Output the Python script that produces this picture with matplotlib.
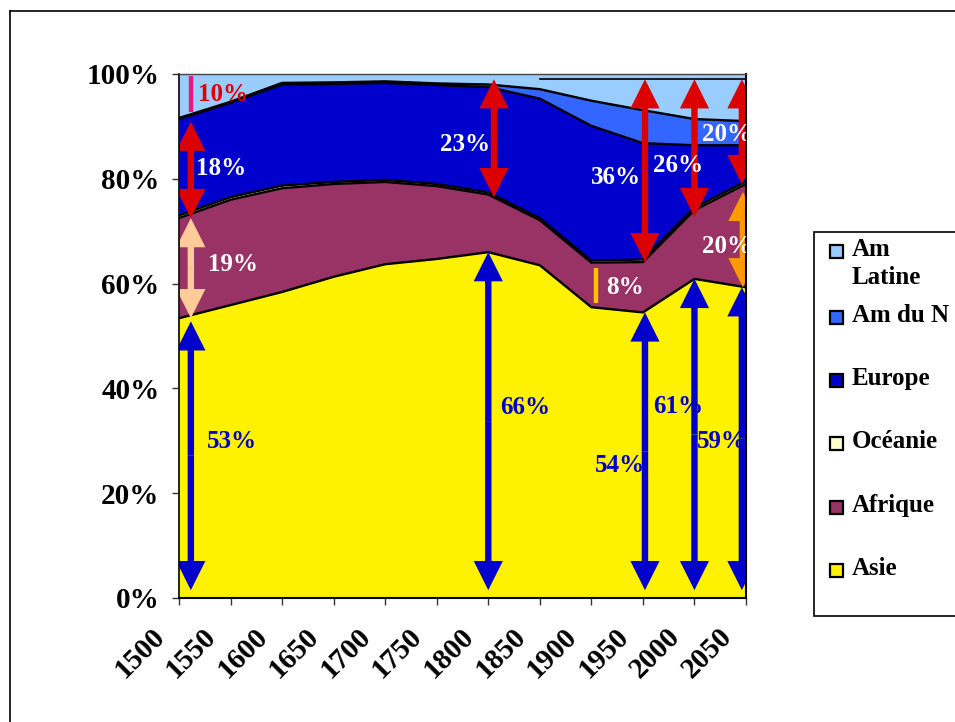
import matplotlib
matplotlib.use("Agg")
import matplotlib.pyplot as plt
import matplotlib.transforms as mtransforms
from matplotlib.patches import FancyArrowPatch, ArrowStyle, Rectangle
import numpy as np

# ---- data: share of world population by region (%) ----
years = [1500, 1550, 1600, 1650, 1700, 1750, 1800, 1850, 1900, 1950, 2000, 2050]
asie      = [53.4, 55.9, 58.4, 61.3, 63.7, 64.7, 66.0, 63.5, 55.5, 54.5, 60.9, 59.3]
afrique   = [19.1, 20.1, 19.8, 17.7, 15.7, 13.9, 11.0,  8.6,  8.5,  9.6, 13.1, 19.7]
oceanie   = [ 0.5,  0.5,  0.5,  0.4,  0.4,  0.4,  0.4,  0.4,  0.4,  0.5,  0.5,  0.5]
europe    = [18.4, 18.0, 19.3, 18.7, 18.5, 18.9, 20.1, 22.8, 25.7, 22.2, 11.9,  6.9]
am_nord   = [ 0.2,  0.2,  0.3,  0.3,  0.3,  0.3,  0.5,  1.8,  4.8,  6.3,  5.0,  4.6]
am_latine = [ 8.4,  5.3,  1.7,  1.6,  1.4,  1.8,  2.0,  2.9,  5.1,  6.9,  8.6,  9.0]

region_names  = ["Asie", "Afrique", "Océanie", "Europe", "Am du N", "Am\nLatine"]
region_colors = ["#FFF200", "#993366", "#FFFFCC", "#0000CC", "#3366FF", "#99CCFF"]
y_ticks = [0, 20, 40, 60, 80, 100]
y_tick_labels = ["0%", "20%", "40%", "60%", "80%", "100%"]

RED, BLUE, PEACH, ORANGE = "#DD0000", "#0000CC", "#FFCC99", "#FF9900"
W, H = 955, 722
SERIF = "Liberation Serif"

fig = plt.figure(figsize=(W / 100, H / 100), dpi=100)
fig.patch.set_facecolor("white")

# outer frame of the chart
fig.add_artist(plt.Line2D([10 / W, 10 / W], [0, 1 - 11 / H], color="black", lw=1.2))
fig.add_artist(plt.Line2D([10 / W, 1], [1 - 11 / H, 1 - 11 / H], color="black", lw=1.2))

ax = fig.add_axes([179 / W, 1 - 598 / H, (746 - 179) / W, (598 - 74) / H])

layers = np.array([asie, afrique, oceanie, europe, am_nord, am_latine])
tops = np.cumsum(layers, axis=0)
bottom = np.zeros(len(years))
for top, col in zip(tops, region_colors):
    ax.fill_between(years, bottom, top, color=col, lw=0, zorder=1)
    bottom = top
for top in tops[:-1]:
    ax.plot(years, top, color="black", lw=1.7, zorder=2, solid_joinstyle="miter")
ax.plot([1850, 2050], [99.0, 99.0], color="black", lw=1.2, zorder=2)

ax.set_xlim(years[0], years[-1])
ax.set_ylim(0, 100)
ax.set_xticks(years)
ax.set_xticklabels([str(y) for y in years], rotation=45, ha="right",
                   fontsize=21, fontweight="bold", family=SERIF)
ax.set_yticks(y_ticks)
ax.set_yticklabels(y_tick_labels, fontsize=21, fontweight="bold", family=SERIF)
ax.tick_params(axis="both", direction="out", length=5, width=1, color="#333333")
ax.tick_params(axis="x", pad=13)
ax.tick_params(axis="y", pad=9)
shift = mtransforms.ScaledTranslation(-0.09, 0, fig.dpi_scale_trans)
for lab in ax.get_xticklabels():
    lab.set_transform(lab.get_transform() + shift)

for side, c, lw in [("left", "black", 1.2), ("bottom", "black", 1.5),
                    ("top", "#444444", 1.0), ("right", "black", 1.5)]:
    ax.spines[side].set_color(c)
    ax.spines[side].set_linewidth(lw)
    ax.spines[side].set_zorder(5)

asie_top, afr_top, oce_top, eur_top, amn_top = tops[0], tops[1], tops[2], tops[3], tops[4]
idx = {y: i for i, y in enumerate(years)}


def double_arrow(x, y0, y1, color):
    mid = (y0 + y1) / 2
    style = ArrowStyle.Simple(head_length=1.0, head_width=1.0, tail_width=0.22)
    for end in (y0, y1):
        ax.add_patch(FancyArrowPatch((x, mid), (x, end), arrowstyle=style,
                                     mutation_scale=21, color=color, lw=0,
                                     shrinkA=0, shrinkB=0, zorder=4))


TOP_TIP, BOT_TIP = 99.0, 1.5
i = idx[1500]
double_arrow(1511.5, afr_top[i], eur_top[i] - 0.5, RED)
double_arrow(1511.5, asie_top[i], afr_top[i], PEACH)
double_arrow(1511.5, BOT_TIP, asie_top[i] - 0.6, BLUE)
ax.vlines(1511.5, amn_top[i] + 1.1, 99.6, color="#E6197F", lw=3.2, zorder=4)

i = idx[1800]
double_arrow(1805.5, afr_top[i] - 0.5, TOP_TIP, RED)
double_arrow(1800, BOT_TIP, asie_top[i], BLUE)

i = idx[1950]
double_arrow(1952, afr_top[i], TOP_TIP, RED)
double_arrow(1952, BOT_TIP, asie_top[i], BLUE)
j = idx[1900]
ax.vlines(1904.5, asie_top[j] + 0.8, afr_top[j] - 1.0, color="#FFC000", lw=3.2, zorder=4)

i = idx[2000]
double_arrow(2000, afr_top[i] - 1.3, TOP_TIP, RED)
double_arrow(2000, BOT_TIP, asie_top[i], BLUE)

i = idx[2050]
double_arrow(2046, afr_top[i], TOP_TIP, RED)
double_arrow(2047, asie_top[i], afr_top[i] - 1.5, ORANGE)
double_arrow(2046, BOT_TIP, asie_top[i], BLUE)

# value labels
labels = [
    (1542.7, 96.0, "10%", RED),
    (1540.7, 81.9, "18%", "white"),
    (1552.4, 63.7, "19%", "white"),
    (1551.4, 29.8, "53%", BLUE),
    (1777.4, 86.5, "23%", "white"),
    (1835.6, 36.3, "66%", BLUE),
    (1923.9, 80.2, "36%", "white"),
    (1984.0, 82.6, "26%", "white"),
    (2031.6, 88.4, "20%", "white"),
    (2031.6, 67.0, "20%", "white"),
    (1932.6, 59.2, "8%", "white"),
    (1927.7, 25.2, "54%", BLUE),
    (1984.0, 36.5, "61%", BLUE),
    (2026.7, 29.8, "59%", BLUE),
]
for x, y, s, c in labels:
    ax.text(x, y, s, color=c, fontsize=18, fontweight="bold", family=SERIF,
            ha="center", va="center", zorder=6, clip_on=True)

# legend
fig.add_artist(Rectangle((814 / W, 1 - 616 / H), 0.3, (616 - 232) / H,
                         transform=fig.transFigure, facecolor="white",
                         edgecolor="black", lw=1.2, zorder=0))
legend_rows = [251, 317, 380, 443, 507, 570]
order = list(range(len(region_names)))[::-1]
for row, k in zip(legend_rows, order):
    fig.add_artist(Rectangle(((830) / W, 1 - (row + 7) / H), 13 / W, 13 / H,
                             transform=fig.transFigure, facecolor=region_colors[k],
                             edgecolor="black", lw=1.6, zorder=3))
    fig.text(852 / W, 1 - (row - 13) / H, region_names[k], fontsize=18,
             fontweight="bold", family=SERIF, ha="left", va="top",
             linespacing=1.25, zorder=3)

fig.savefig("out.png", dpi=100)
